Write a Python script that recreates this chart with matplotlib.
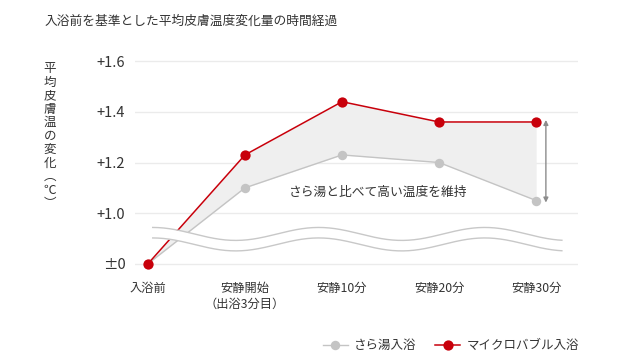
import numpy as np
import matplotlib
matplotlib.use('Agg')
import matplotlib.pyplot as plt

plt.rcParams['font.family'] = ['Noto Sans CJK JP', 'DejaVu Sans']

# データ（℃、入浴前を基準）
categories = ['入浴前', '安静開始\n（出浴3分目）', '安静10分', '安静20分', '安静30分']
sara_yu = [0.0, 1.10, 1.23, 1.20, 1.05]          # さら湯入浴
micro_bubble = [0.0, 1.23, 1.44, 1.36, 1.36]     # マイクロバブル入浴
tick_values = [0.0, 1.0, 1.2, 1.4, 1.6]
tick_labels = ['±0', '+1.0', '+1.2', '+1.4', '+1.6']

RED = '#c8000b'
GRAY = '#c4c4c4'
TEXT = '#333333'


def to_axis(v):
    # 0〜1.0 の間は省略（波線）、1.0 以上は 0.2 刻みで 1 目盛
    v = np.asarray(v, dtype=float)
    return np.where(v <= 0, 0.0, 1 + (v - 1.0) / 0.2)


x = np.arange(len(categories))
y_gray = to_axis(sara_yu)
y_red = to_axis(micro_bubble)

fig = plt.figure(figsize=(6.4, 3.6), dpi=100)
ax = fig.add_axes([0.211, 0.236, 0.692, 0.611])

# 差の部分を塗る
ax.fill_between(x, y_gray, y_red, color='#efefef', zorder=1, linewidth=0)

ax.plot(x, y_gray, color=GRAY, lw=1.0, marker='o', ms=6.8,
        markeredgewidth=0, zorder=3, label='さら湯入浴')
ax.plot(x, y_red, color=RED, lw=1.1, marker='o', ms=7.4,
        markeredgewidth=0, zorder=4, label='マイクロバブル入浴')

# 省略記号の波線
xw = np.linspace(0.05, 4.265, 300)
phase = 2 * np.pi * (xw - 0.05) / 1.71
upper = 0.591 + 0.128 * np.cos(phase)
lower = 0.384 + 0.128 * np.cos(phase)
ax.fill_between(xw, lower, upper, color='white', zorder=5, linewidth=0)
ax.plot(xw, upper, color='#c8c8c8', lw=1.0, zorder=6)
ax.plot(xw, lower, color='#c8c8c8', lw=1.0, zorder=6)

# 差を示す矢印
ax.annotate('', xy=(4.1, y_gray[-1] - 0.04), xytext=(4.1, y_red[-1] + 0.04),
            arrowprops=dict(arrowstyle='<|-|>', color='#8c8c8c', lw=1.0,
                            mutation_scale=7, shrinkA=0, shrinkB=0), zorder=6)
ax.text(2.37, 1.42, 'さら湯と比べて高い温度を維持', fontsize=9.2, color=TEXT,
        ha='center', va='center', zorder=7)

ax.set_xlim(-0.132, 4.43)
ax.set_ylim(-0.22, 4.12)
ax.set_yticks(to_axis(tick_values))
ax.set_yticklabels(tick_labels, fontsize=10.5, color=TEXT)
ax.set_xticks(x)
ax.set_xticklabels(categories, fontsize=8.8, color=TEXT, linespacing=1.3, va='top')
ax.tick_params(axis='both', length=0)
ax.tick_params(axis='y', pad=7)
ax.tick_params(axis='x', pad=5)
ax.grid(axis='y', color='#ebebeb', lw=1.0, zorder=0)
ax.set_axisbelow(True)
for s in ax.spines.values():
    s.set_visible(False)

fig.text(45 / 640, 1 - 21 / 360, '入浴前を基準とした平均皮膚温度変化量の時間経過',
         fontsize=9.2, color=TEXT, ha='left', va='center')
fig.text(50 / 640, 1 - 62 / 360, '\n'.join('平均皮膚温の変化︵℃︶'),
         fontsize=9, color=TEXT, ha='center', va='top', linespacing=1.05)

fig.legend(loc='center right', bbox_to_anchor=(0.922, 0.039), ncol=2,
           frameon=False, fontsize=9, handlelength=2.0, columnspacing=1.5,
           handletextpad=0.5, labelcolor=TEXT)

fig.savefig('out.png', dpi=100)
